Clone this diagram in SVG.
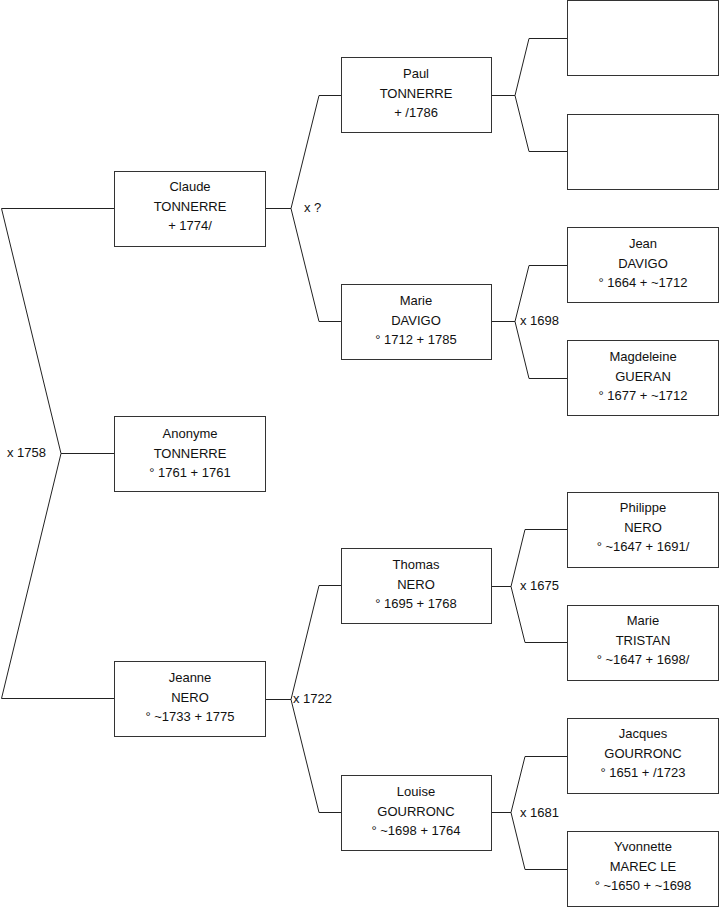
<svg xmlns="http://www.w3.org/2000/svg" width="719" height="908" viewBox="0 0 719 908">
<style>
.box{fill:#fff;stroke:#333;stroke-width:1}
.ln{fill:none;stroke:#222;stroke-width:1}
text{font-family:"Liberation Sans",Arial,sans-serif;font-size:13px;fill:#111}
.c{text-anchor:middle}
</style>
<rect width="719" height="908" fill="#fff"/>
<g id="connectors">
<path class="ln" d="M114,208.5 H1.5 L61,453.5 L1.5,698.5 H114 M61,453.5 H114"/>
<path class="ln" d="M265,208.5 H291 M341,95.5 H319 L291,208.5 L319,321.5 H341"/>
<path class="ln" d="M265,699.5 H291 M341,585.5 H319 L291,699.5 L319,812.5 H341"/>
<path class="ln" d="M491,95.5 H515 M567,38.5 H529 L515,95.5 L529,151.5 H567"/>
<path class="ln" d="M491,321.5 H515 M567,265.5 H529 L515,321.5 L529,378.5 H567"/>
<path class="ln" d="M491,586.5 H511 M567,529.5 H525 L511,586.5 L525,642.5 H567"/>
<path class="ln" d="M491,812.5 H511 M567,756.5 H525 L511,812.5 L525,869.5 H567"/>
<text x="7" y="457">x 1758</text>
<text x="304" y="212">x ?</text>
<text x="520" y="325">x 1698</text>
<text x="293" y="703">x 1722</text>
<text x="520" y="590">x 1675</text>
<text x="520" y="817">x 1681</text>
</g>
<g id="claude"><rect class="box" x="114.5" y="171.5" width="151" height="75"/><text class="c" x="190" y="191">Claude</text><text class="c" x="190" y="211">TONNERRE</text><text class="c" x="190" y="230">+ 1774/</text></g>
<g id="anonyme"><rect class="box" x="114.5" y="416.5" width="151" height="75"/><text class="c" x="190" y="438">Anonyme</text><text class="c" x="190" y="458">TONNERRE</text><text class="c" x="190" y="477">° 1761 + 1761</text></g>
<g id="jeanne"><rect class="box" x="114.5" y="661.5" width="151" height="75"/><text class="c" x="190" y="682">Jeanne</text><text class="c" x="190" y="702">NERO</text><text class="c" x="190" y="721">° ~1733 + 1775</text></g>
<g id="paul"><rect class="box" x="341.5" y="57.5" width="150" height="75"/><text class="c" x="416" y="78">Paul</text><text class="c" x="416" y="98">TONNERRE</text><text class="c" x="416" y="117">+ /1786</text></g>
<g id="marie-davigo"><rect class="box" x="341.5" y="284.5" width="150" height="75"/><text class="c" x="416" y="305">Marie</text><text class="c" x="416" y="325">DAVIGO</text><text class="c" x="416" y="344">° 1712 + 1785</text></g>
<g id="thomas"><rect class="box" x="341.5" y="548.5" width="150" height="75"/><text class="c" x="416" y="569">Thomas</text><text class="c" x="416" y="589">NERO</text><text class="c" x="416" y="608">° 1695 + 1768</text></g>
<g id="louise"><rect class="box" x="341.5" y="775.5" width="150" height="75"/><text class="c" x="416" y="796">Louise</text><text class="c" x="416" y="816">GOURRONC</text><text class="c" x="416" y="835">° ~1698 + 1764</text></g>
<g id="empty1"><rect class="box" x="567.5" y="0.5" width="151" height="75"/></g>
<g id="empty2"><rect class="box" x="567.5" y="114.5" width="151" height="75"/></g>
<g id="jean"><rect class="box" x="567.5" y="227.5" width="151" height="75"/><text class="c" x="643" y="248">Jean</text><text class="c" x="643" y="268">DAVIGO</text><text class="c" x="643" y="287">° 1664 + ~1712</text></g>
<g id="magdeleine"><rect class="box" x="567.5" y="340.5" width="151" height="75"/><text class="c" x="643" y="361">Magdeleine</text><text class="c" x="643" y="381">GUERAN</text><text class="c" x="643" y="400">° 1677 + ~1712</text></g>
<g id="philippe"><rect class="box" x="567.5" y="492.5" width="151" height="75"/><text class="c" x="643" y="512">Philippe</text><text class="c" x="643" y="532">NERO</text><text class="c" x="643" y="551">° ~1647 + 1691/</text></g>
<g id="marie-tristan"><rect class="box" x="567.5" y="605.5" width="151" height="75"/><text class="c" x="643" y="625">Marie</text><text class="c" x="643" y="645">TRISTAN</text><text class="c" x="643" y="664">° ~1647 + 1698/</text></g>
<g id="jacques"><rect class="box" x="567.5" y="718.5" width="151" height="75"/><text class="c" x="643" y="738">Jacques</text><text class="c" x="643" y="758">GOURRONC</text><text class="c" x="643" y="777">° 1651 + /1723</text></g>
<g id="yvonnette"><rect class="box" x="567.5" y="831.5" width="151" height="75"/><text class="c" x="643" y="851">Yvonnette</text><text class="c" x="643" y="871">MAREC LE</text><text class="c" x="643" y="890">° ~1650 + ~1698</text></g>
</svg>
